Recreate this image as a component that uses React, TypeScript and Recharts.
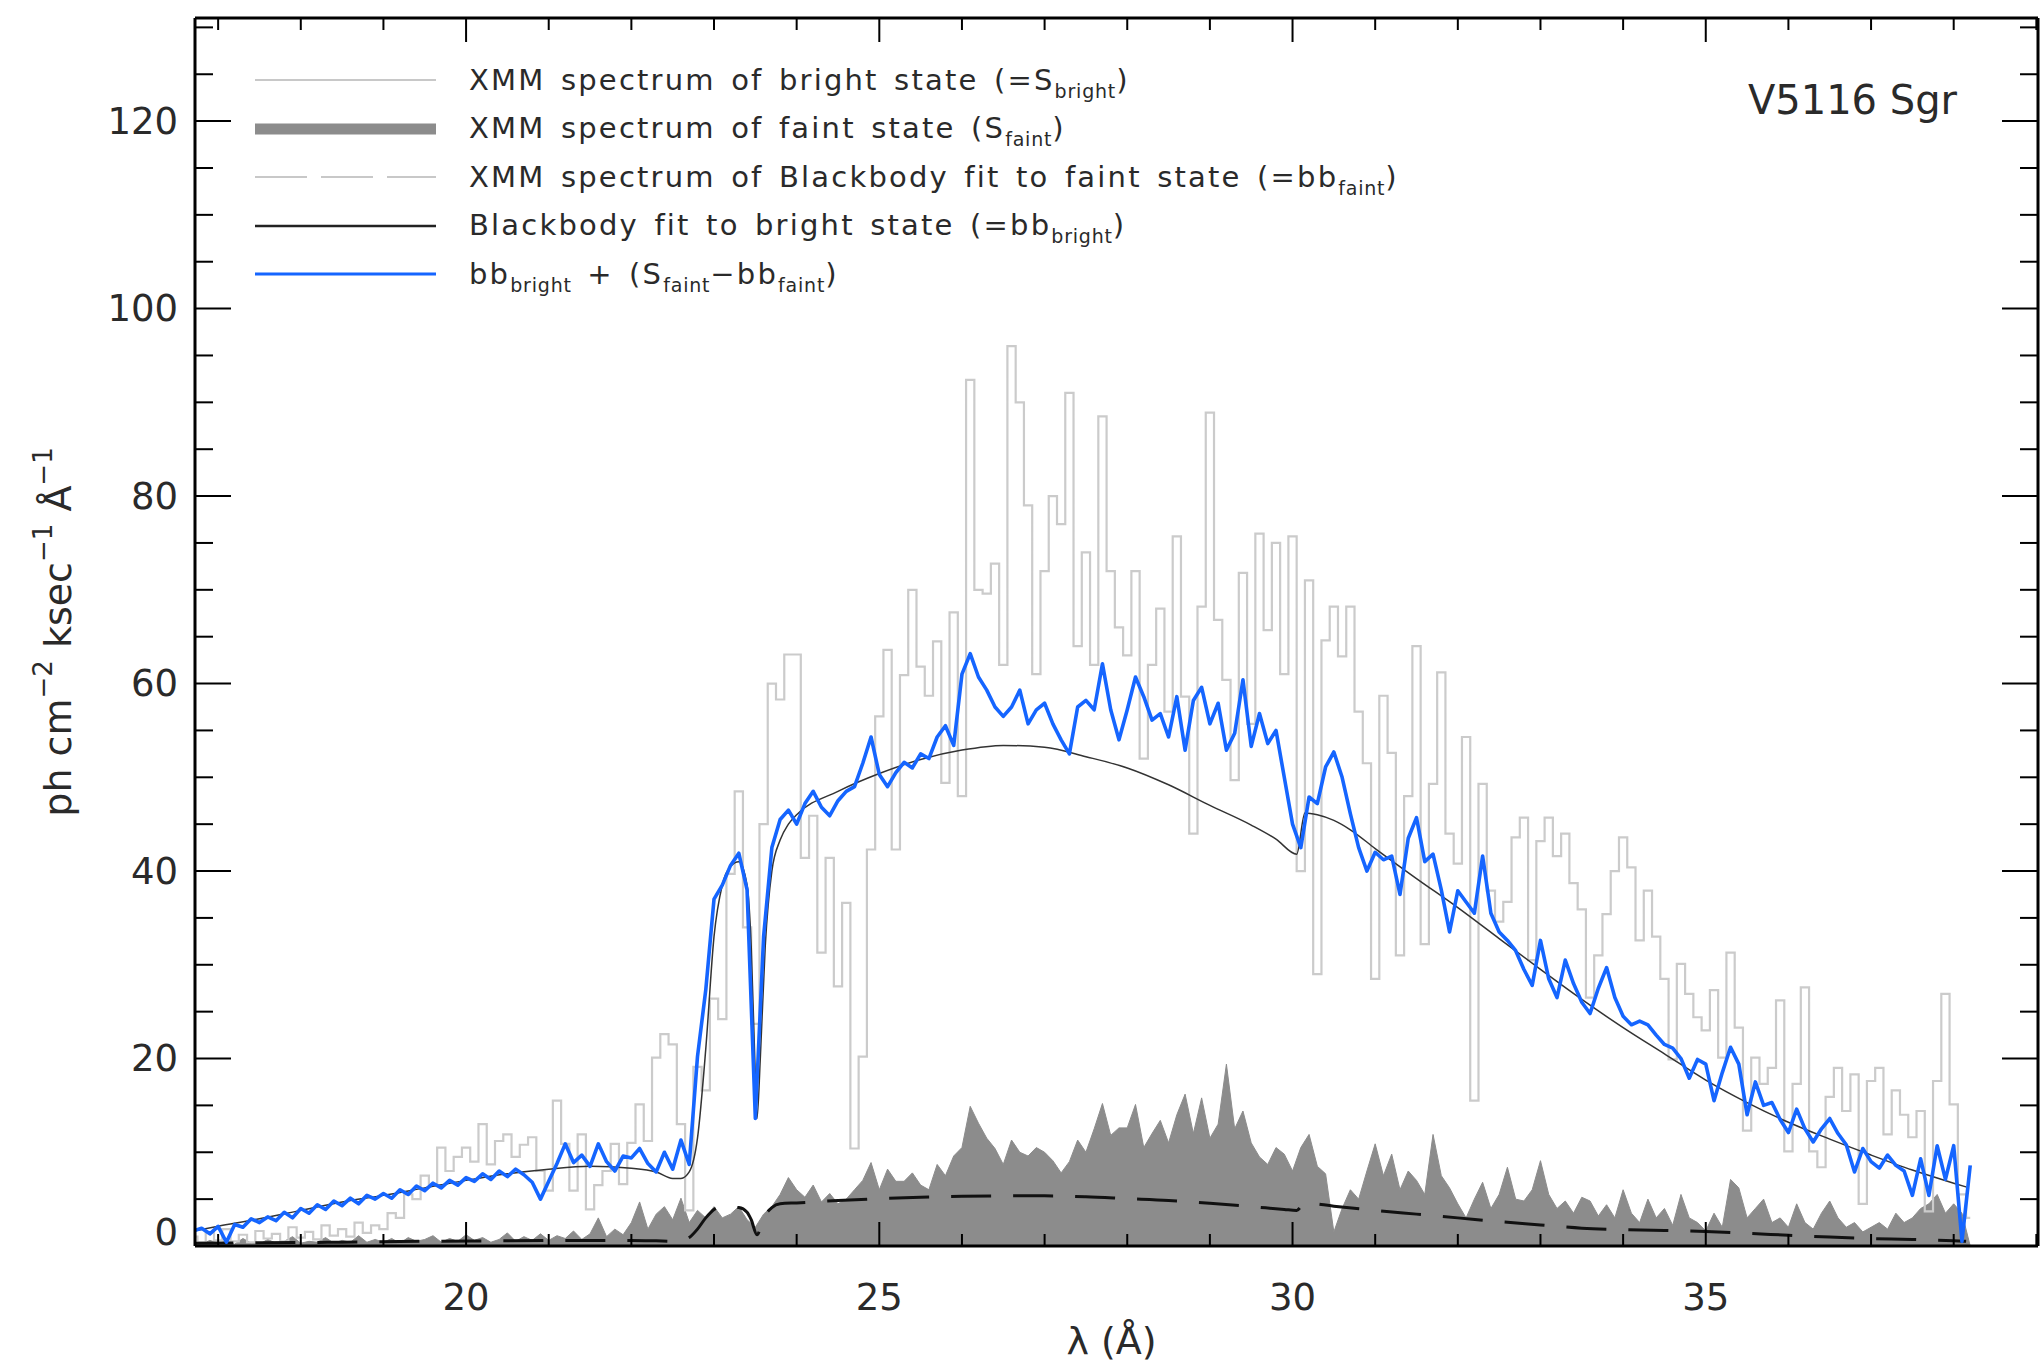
import React from "react";
import { ComposedChart, Line, Area, XAxis, YAxis, Legend, Label } from "recharts";

const FONT = "'DejaVu Sans', sans-serif";
const INK = "#2a2a2a";

// wavelength grid of the binned spectra (Å)
const LAMBDA_START = 16.7;
const LAMBDA_STEP = 0.1;

// XMM spectrum of bright state, one value per grid bin (16.7 .. 38.2 Å)
const S_BRIGHT = [
  1.0, 0.4, 1.4, 0.6, 1.8, 0.5, 1.2, 0.4, 1.6, 0.8,
  1.3, 0.5, 2.0, 0.9, 1.5, 0.7, 2.2, 1.1, 1.8, 1.0,
  2.5, 1.4, 2.2, 1.8, 3.5, 3.0, 5.5, 5.0, 7.5, 6.5,
  10.5, 8.0, 9.5, 10.5, 9.0, 13.0, 8.7, 11.2, 11.9, 9.5,
  10.8, 11.6, 8.0, 5.9, 15.5, 10.9, 5.9, 11.9, 3.9, 6.5,
  8.0, 10.9, 6.6, 11.0, 15.1, 11.2, 20.1, 22.6, 21.5, 13.0,
  3.8, 19.1, 16.6, 26.4, 24.2, 39.7, 48.5, 34.0, 23.7, 45.0,
  60.0, 58.3, 63.1, 63.1, 41.4, 45.9, 31.3, 41.4, 27.7, 36.6,
  10.4, 20.2, 42.3, 56.5, 63.6, 42.3, 60.9, 70.0, 61.8, 58.7,
  64.5, 49.4, 67.6, 48.0, 92.4, 70.0, 69.6, 72.8, 62.0, 96.0,
  90.0, 79.0, 61.0, 72.0, 80.0, 77.0, 91.0, 64.0, 74.0, 62.0,
  88.5, 72.0, 66.0, 63.0, 72.0, 52.0, 62.0, 68.0, 57.0, 75.7,
  58.6, 44.0, 68.2, 88.9, 66.8, 60.4, 49.7, 71.8, 55.7, 76.0,
  65.7, 75.0, 61.0, 75.7, 40.0, 71.0, 29.0, 64.6, 68.2, 62.9,
  68.2, 57.0, 51.5, 28.5, 58.7, 52.6, 31.0, 48.0, 64.0, 32.2,
  49.3, 61.2, 44.0, 40.8, 54.3, 15.5, 49.3, 37.9, 34.6, 36.7,
  43.6, 45.7, 30.5, 43.2, 45.7, 41.6, 44.0, 38.7, 35.9, 26.5,
  31.0, 35.4, 40.0, 43.6, 40.4, 32.6, 37.9, 33.0, 28.5, 19.9,
  30.1, 26.9, 24.4, 23.0, 27.3, 20.1, 31.3, 23.3, 12.3, 20.1,
  17.3, 19.0, 26.2, 10.1, 17.3, 27.6, 10.1, 8.4, 15.9, 19.0,
  14.4, 18.3, 4.5, 17.6, 19.0, 11.9, 16.6, 14.0, 11.6, 14.4,
  3.7, 17.6, 26.9, 15.1, 5.5, 3.0,
];

// XMM spectrum of faint state
const S_FAINT = [
  0.4, 0.2, 0.6, 0.3, 0.5, 0.2, 0.8, 0.3, 0.2, 0.7,
  0.3, 0.5, 1.0, 0.3, 0.5, 0.4, 0.9, 0.3, 0.6, 0.4,
  1.1, 0.4, 0.7, 0.4, 0.8, 0.3, 0.9, 0.5, 0.7, 1.1,
  0.4, 0.8, 0.5, 1.2, 0.6, 0.9, 0.4, 0.7, 1.4, 0.5,
  1.0, 0.6, 1.3, 0.6, 1.1, 0.8, 1.6, 0.7, 1.3, 3.0,
  1.0, 1.8, 1.2, 2.5, 4.7, 1.8, 3.4, 4.2, 2.8, 5.1,
  2.5, 3.8, 3.0, 4.2, 3.0, 3.4, 4.2, 2.8, 2.0, 3.4,
  4.2, 5.5, 7.3, 6.0, 5.2, 6.5, 4.7, 5.6, 4.5, 5.0,
  6.0, 7.0, 8.9, 6.0, 8.2, 6.9, 6.9, 7.8, 6.5, 6.0,
  8.7, 7.5, 9.6, 10.5, 14.9, 13.1, 11.5, 10.4, 8.7, 11.3,
  10.0, 9.6, 10.5, 10.0, 9.1, 7.8, 9.0, 11.3, 10.0, 12.5,
  15.2, 11.8, 12.6, 12.6, 15.1, 10.5, 12.0, 13.4, 11.0, 14.0,
  16.2, 12.0, 15.8, 11.5, 13.0, 19.4, 12.5, 14.4, 11.0, 9.5,
  8.7, 10.5, 9.8, 8.0, 10.5, 11.9, 8.5, 7.7, 1.5, 4.0,
  6.0, 5.0, 8.0, 10.9, 7.5, 9.8, 6.0, 8.0, 7.0, 5.5,
  11.9, 7.5, 6.2, 4.5, 3.0, 5.0, 6.8, 4.0, 5.5, 8.4,
  5.0, 4.8, 6.0, 9.1, 5.5, 4.0, 4.8, 3.5, 5.2, 4.8,
  3.2, 4.4, 3.0, 6.0, 3.5, 2.5, 5.0, 3.0, 4.0, 2.2,
  5.5, 3.0, 2.5, 1.6, 3.5, 2.0, 7.1, 6.2, 3.0, 4.0,
  5.0, 2.5, 3.0, 2.0, 4.5, 2.5, 1.8, 3.5, 4.8, 3.0,
  2.0, 2.5, 1.5, 2.0, 2.5, 1.8, 3.5, 2.5, 3.0, 4.0,
  4.5, 5.5, 3.5, 4.5, 3.5, 0,
];

// bb_bright + (S_faint - bb_faint)
const BLUE = [
  1.6, 1.9, 1.3, 2.1, 0.4, 2.3, 2.0, 2.9, 2.5, 3.1,
  2.7, 3.6, 3.0, 4.0, 3.5, 4.4, 3.9, 4.8, 4.3, 5.1,
  4.5, 5.4, 5.0, 5.6, 5.1, 6.0, 5.5, 6.4, 5.9, 6.7,
  6.2, 7.0, 6.5, 7.3, 6.9, 7.7, 7.1, 8.0, 7.4, 8.2,
  7.6, 6.8, 5.0, 6.9, 8.8, 10.9, 8.9, 9.7, 8.5, 10.9,
  9.0, 8.0, 9.6, 9.4, 10.4, 8.8, 7.9, 10.0, 8.2, 11.3,
  8.7, 20.2, 27.3, 37.0, 38.5, 40.6, 41.9, 38.0, 13.6, 33.0,
  42.5, 45.5, 46.5, 45.0, 47.2, 48.5, 46.8, 45.9, 47.5, 48.5,
  49.0, 51.5, 54.3, 50.3, 49.0, 50.5, 51.6, 51.0, 52.5, 52.0,
  54.3, 55.5, 53.4, 61.0, 63.2, 60.7, 59.3, 57.5, 56.5, 57.5,
  59.3, 55.7, 57.2, 57.9, 55.7, 54.0, 52.5, 57.5, 58.2, 57.2,
  62.1, 57.2, 54.0, 57.2, 60.7, 58.6, 56.1, 56.8, 54.3, 58.6,
  52.9, 58.2, 59.6, 55.7, 57.9, 52.9, 54.7, 60.4, 53.3, 56.8,
  53.6, 55.0, 50.0, 45.0, 42.5, 47.9, 47.2, 51.1, 52.7, 50.0,
  46.1, 42.5, 40.0, 42.0, 41.2, 41.6, 37.5, 43.5, 45.7, 41.0,
  41.8, 38.0, 33.5, 37.9, 36.7, 35.5, 41.6, 35.5, 33.5, 32.6,
  31.5, 29.5, 27.8, 32.6, 28.5, 26.5, 30.5, 28.0, 26.0, 24.8,
  27.5, 29.7, 26.5, 24.5, 23.6, 24.0, 23.6, 22.5, 21.5, 21.1,
  20.0, 17.9, 19.9, 19.4, 15.5, 18.5, 21.2, 19.4, 14.0, 17.5,
  15.0, 15.3, 13.5, 12.1, 14.6, 12.5, 11.1, 12.5, 13.6, 12.0,
  10.8, 7.9, 10.4, 9.0, 8.3, 9.7, 8.6, 8.0, 5.4, 9.3,
  5.4, 10.7, 7.1, 10.7, 0.5, 8.6,
];

// blackbody fit to bright state
const BB_BRIGHT_LAMBDA = [
  16.7, 17.0, 17.5, 18.0, 18.5, 19.0, 19.5, 20.0, 20.5, 21.0,
  21.5, 22.0, 22.3, 22.5, 22.6, 22.7, 22.8, 22.9, 23.0, 23.1,
  23.2, 23.3, 23.4, 23.45, 23.5, 23.52, 23.56, 23.62, 23.7, 23.8,
  23.9, 24.0, 24.5, 25.0, 25.5, 26.0, 26.5, 27.0, 27.5, 28.0,
  28.5, 29.0, 29.5, 29.8, 30.05, 30.15, 30.3, 30.5, 30.7, 31.0,
  31.5, 32.0, 32.5, 33.0, 33.5, 34.0, 34.5, 35.0, 35.5, 36.0,
  36.5, 37.0, 37.5, 38.0, 38.15,
];
const BB_BRIGHT = [
  1.6, 2.1, 2.9, 3.8, 4.7, 5.4, 6.2, 7.0, 7.7, 8.2,
  8.5, 8.3, 7.9, 7.2, 7.2, 7.9, 11.5, 21.0, 33.0, 38.5,
  40.5, 41.0, 38.5, 32.0, 18.0, 13.6, 20.0, 32.0, 40.0, 43.3,
  45.0, 46.0, 48.5, 50.4, 51.9, 52.9, 53.4, 53.2, 52.2, 51.0,
  49.2, 47.0, 44.9, 43.4, 41.8, 46.2, 46.0, 45.4, 44.4, 42.4,
  39.2, 36.1, 32.8, 29.5, 26.3, 23.3, 20.5, 17.7, 15.3, 13.2,
  11.4, 9.7, 8.1, 6.7, 6.3,
];

// blackbody fit to faint state
const BB_FAINT_LAMBDA = [
  16.7, 17.5, 18.5, 19.5, 20.5, 21.5, 22.0, 22.3, 22.5, 22.6,
  22.7, 22.8, 22.9, 23.0, 23.1, 23.3, 23.4, 23.45, 23.52, 23.6,
  23.7, 23.8, 24.0, 24.5, 25.0, 25.5, 26.0, 26.5, 27.0, 27.5,
  28.0, 28.5, 29.0, 29.5, 29.9, 30.05, 30.15, 30.5, 31.0, 31.5,
  32.0, 32.5, 33.0, 33.5, 34.0, 34.5, 35.0, 35.5, 36.0, 36.5,
  37.0, 37.5, 38.0, 38.15,
];
const BB_FAINT = [
  0.3, 0.35, 0.4, 0.5, 0.55, 0.6, 0.6, 0.55, 0.5, 0.6,
  0.9, 1.8, 3.0, 3.9, 4.2, 4.1, 3.6, 2.8, 1.2, 3.0,
  4.1, 4.5, 4.6, 4.85, 5.05, 5.2, 5.3, 5.35, 5.35, 5.25,
  5.05, 4.85, 4.55, 4.2, 3.9, 3.8, 4.6, 4.25, 3.8, 3.4,
  3.0, 2.6, 2.25, 1.9, 1.75, 1.65, 1.55, 1.35, 1.15, 0.95,
  0.8, 0.7, 0.55, 0.5,
];

const X_DOMAIN = [16.72, 39.02];
const Y_DOMAIN = [0, 131];
const X_TICKS = [17, 18, 19, 20, 21, 22, 23, 24, 25, 26, 27, 28, 29, 30, 31, 32, 33, 34, 35, 36, 37, 38, 39];
const X_LABELED = [20, 25, 30, 35];
const Y_TICKS = [0, 5, 10, 15, 20, 25, 30, 35, 40, 45, 50, 55, 60, 65, 70, 75, 80, 85, 90, 95, 100, 105, 110, 115, 120, 125, 130];
const Y_LABELED = [0, 20, 40, 60, 80, 100, 120];

const lambdaAt = (i: number) => Number((LAMBDA_START + i * LAMBDA_STEP).toFixed(2));
const brightData = S_BRIGHT.map((y, i) => ({ x: lambdaAt(i), y }));
const faintData = S_FAINT.map((y, i) => ({ x: lambdaAt(i), y }));
const blueData = BLUE.map((y, i) => ({ x: lambdaAt(i), y }));
const bbBrightData = BB_BRIGHT_LAMBDA.map((x, i) => ({ x, y: BB_BRIGHT[i] }));
const bbFaintData = BB_FAINT_LAMBDA.map((x, i) => ({ x, y: BB_FAINT[i] }));

const FRAME = { stroke: "#000", strokeWidth: 3 };

// ticks point into the plot, IDL style
function BottomTick({ x, y, payload }: any) {
  const major = X_LABELED.includes(payload.value);
  return (
    <g>
      <line x1={x} x2={x} y1={y} y2={y - (major ? 24 : 12)} stroke="#000" strokeWidth={2} />
      {major && (
        <text x={x} y={y + 51} textAnchor="middle" dominantBaseline="central" fontSize={37} fontFamily={FONT} fill={INK}>
          {payload.value}
        </text>
      )}
    </g>
  );
}

function TopTick({ x, y, payload }: any) {
  const major = X_LABELED.includes(payload.value);
  return <line x1={x} x2={x} y1={y} y2={y + (major ? 24 : 12)} stroke="#000" strokeWidth={2} />;
}

function LeftTick({ x, y, payload }: any) {
  const major = Y_LABELED.includes(payload.value);
  return (
    <g>
      <line x1={x} x2={x + (major ? 36 : 18)} y1={y} y2={y} stroke="#000" strokeWidth={2} />
      {major && (
        <text
          x={x - 17}
          y={payload.value === 0 ? y - 14 : y}
          textAnchor="end"
          dominantBaseline="central"
          fontSize={37}
          fontFamily={FONT}
          fill={INK}
        >
          {payload.value}
        </text>
      )}
    </g>
  );
}

function RightTick({ x, y, payload }: any) {
  const major = Y_LABELED.includes(payload.value);
  return <line x1={x} x2={x - (major ? 36 : 18)} y1={y} y2={y} stroke="#000" strokeWidth={2} />;
}

function XTitle({ viewBox }: any) {
  return (
    <text x={viewBox.x + viewBox.width / 2 - 5} y={viewBox.y + 95} textAnchor="middle" dominantBaseline="central" fontSize={38} fontFamily={FONT} fill={INK}>
      λ  (Å)
    </text>
  );
}

function YTitle({ viewBox }: any) {
  const cx = viewBox.x + 58;
  const cy = viewBox.y + viewBox.height / 2;
  return (
    <text x={cx} y={cy} transform={`rotate(-90 ${cx} ${cy})`} textAnchor="middle" dominantBaseline="central" fontSize={38} fontFamily={FONT} fill={INK}>
      ph cm
      <tspan dy={-15} fontSize={26}>−2</tspan>
      <tspan dy={15}> ksec</tspan>
      <tspan dy={-15} fontSize={26}>−1</tspan>
      <tspan dy={15}> Å</tspan>
      <tspan dy={-15} fontSize={26}>−1</tspan>
    </text>
  );
}

function StarName({ viewBox }: any) {
  return (
    <text x={viewBox.x + viewBox.width - 81} y={viewBox.y + viewBox.height + 82} textAnchor="end" dominantBaseline="central" fontSize={40} fontFamily={FONT} fill={INK}>
      V5116 Sgr
    </text>
  );
}

function Sub({ children }: any) {
  return <span style={{ fontSize: 19, position: "relative", top: 8, letterSpacing: 0.8 }}>{children}</span>;
}

const LEGEND_SAMPLES = [
  { stroke: "#c8c8c8", width: 2, dash: undefined },
  { stroke: "#8c8c8c", width: 11, dash: undefined },
  { stroke: "#c8c8c8", width: 2, dash: "52 14" },
  { stroke: "#222", width: 2.5, dash: undefined },
  { stroke: "#1565ff", width: 3, dash: undefined },
];

const LEGEND_TEXTS = [
  <>XMM spectrum of bright state (=S<Sub>bright</Sub>)</>,
  <>XMM spectrum of faint state (S<Sub>faint</Sub>)</>,
  <>XMM spectrum of Blackbody fit to faint state (=bb<Sub>faint</Sub>)</>,
  <>Blackbody fit to bright state (=bb<Sub>bright</Sub>)</>,
  <>bb<Sub>bright</Sub> + (S<Sub>faint</Sub>−bb<Sub>faint</Sub>)</>,
];

function LegendBox() {
  return (
    <div style={{ fontFamily: FONT, color: INK }}>
      {LEGEND_SAMPLES.map((s, i) => (
        <div key={i} style={{ display: "flex", alignItems: "center", height: 48.5 }}>
          <svg width={181} height={20} style={{ flex: "none" }}>
            <line x1={0} x2={181} y1={10} y2={10} stroke={s.stroke} strokeWidth={s.width} strokeDasharray={s.dash} />
          </svg>
          <span style={{ marginLeft: 33, fontSize: 29, letterSpacing: 2.2, wordSpacing: 4, whiteSpace: "nowrap", lineHeight: 1 }}>
            {LEGEND_TEXTS[i]}
          </span>
        </div>
      ))}
    </div>
  );
}

export default function App() {
  return (
    <div style={{ position: "absolute", left: 0, top: 0, width: 2042, height: 1371, background: "#fff" }}>
      <ComposedChart width={2042} height={1371} margin={{ top: 17, right: 3, bottom: 0, left: 0 }}>
        <XAxis
          xAxisId="b"
          type="number"
          dataKey="x"
          domain={X_DOMAIN}
          allowDataOverflow
          ticks={X_TICKS}
          interval={0}
          tickSize={0}
          tickMargin={0}
          tickLine={false}
          tick={<BottomTick />}
          axisLine={FRAME}
          height={125}
        >
          <Label content={XTitle} />
        </XAxis>
        <XAxis
          xAxisId="t"
          orientation="top"
          type="number"
          dataKey="x"
          domain={X_DOMAIN}
          allowDataOverflow
          ticks={X_TICKS}
          interval={0}
          tickSize={0}
          tickMargin={0}
          tickLine={false}
          tick={<TopTick />}
          axisLine={FRAME}
          height={1}
        >
          <Label content={StarName} />
        </XAxis>
        <YAxis
          yAxisId="l"
          type="number"
          domain={Y_DOMAIN}
          allowDataOverflow
          ticks={Y_TICKS}
          interval={0}
          tickSize={0}
          tickMargin={0}
          tickLine={false}
          tick={<LeftTick />}
          axisLine={FRAME}
          width={195}
        >
          <Label content={YTitle} />
        </YAxis>
        <YAxis
          yAxisId="r"
          orientation="right"
          type="number"
          domain={Y_DOMAIN}
          allowDataOverflow
          ticks={Y_TICKS}
          interval={0}
          tickSize={0}
          tickMargin={0}
          tickLine={false}
          tick={<RightTick />}
          axisLine={FRAME}
          width={1}
        />
        <Legend
          layout="vertical"
          align="center"
          verticalAlign="middle"
          content={<LegendBox />}
          wrapperStyle={{ left: 255, top: 56, width: 1300 }}
        />

        <Area
          xAxisId="b"
          yAxisId="l"
          data={faintData}
          dataKey="y"
          type="linear"
          stroke="#8c8c8c"
          strokeWidth={1}
          fill="#8c8c8c"
          fillOpacity={1}
          dot={false}
          activeDot={false}
          isAnimationActive={false}
        />
        <Line
          xAxisId="b"
          yAxisId="l"
          data={brightData}
          dataKey="y"
          type="step"
          stroke="#cbcbcb"
          strokeWidth={2.2}
          dot={false}
          activeDot={false}
          isAnimationActive={false}
        />
        <Line
          xAxisId="b"
          yAxisId="l"
          data={bbFaintData}
          dataKey="y"
          type="monotone"
          stroke="#111"
          strokeWidth={3}
          strokeDasharray="40 22"
          dot={false}
          activeDot={false}
          isAnimationActive={false}
        />
        <Line
          xAxisId="b"
          yAxisId="l"
          data={bbBrightData}
          dataKey="y"
          type="monotone"
          stroke="#333"
          strokeWidth={1.5}
          dot={false}
          activeDot={false}
          isAnimationActive={false}
        />
        <Line
          xAxisId="b"
          yAxisId="l"
          data={blueData}
          dataKey="y"
          type="linear"
          stroke="#1565ff"
          strokeWidth={3.6}
          strokeLinejoin="round"
          dot={false}
          activeDot={false}
          isAnimationActive={false}
        />
        {/* keeps the mirrored top/right axes on the same scale */}
        <Line
          xAxisId="t"
          yAxisId="r"
          data={bbBrightData}
          dataKey="y"
          stroke="none"
          dot={false}
          activeDot={false}
          legendType="none"
          isAnimationActive={false}
        />
      </ComposedChart>
    </div>
  );
}
